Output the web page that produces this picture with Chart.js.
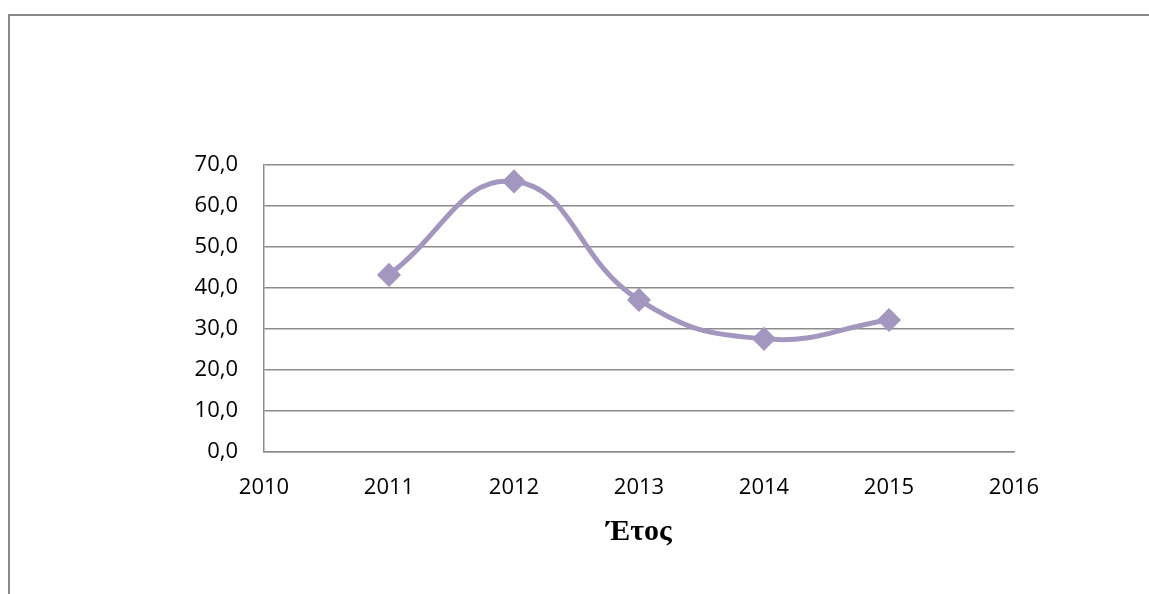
<!DOCTYPE html>
<html>
<head>
<meta charset="utf-8">
<script src="https://cdn.jsdelivr.net/npm/chart.js@4"></script>
<style>
  body { margin: 0; background: #fff; }
  #wrap { position: relative; width: 1149px; height: 594px; }
  #frame { position: absolute; left: 8px; top: 14px; right: -10px; bottom: -10px; border-top: 2px solid #898989; border-left: 2px solid #898989; }
  canvas { position: absolute; left: 0; top: 0; }
</style>
</head>
<body>
<div id="wrap">
  <div id="frame"></div>
  <canvas id="chart1" width="1149" height="594"></canvas>
</div>
<script>
const years = [2011, 2012, 2013, 2014, 2015];
const values = [43.2, 66.0, 37.1, 27.6, 32.2];
const xTitle = "Έτος";

const ctx = document.getElementById("chart1");
const myChart = new Chart(ctx, {
  type: "line",
  data: {
    datasets: [
      {
        data: years.map((y, i) => ({ x: y, y: values[i] })),
        borderColor: "#a397c0",
        backgroundColor: "#a397c0",
        borderWidth: 5,
        tension: 0.45,
        pointStyle: "rectRot",
        pointRadius: 8.5,
        pointHoverRadius: 8.5,
      },
    ],
  },
  options: {
    responsive: false,
    animation: false,
    layout: { padding: { top: 165, right: 135, bottom: 0, left: 0 } },
    plugins: { legend: { display: false }, tooltip: { enabled: false } },
    scales: {
      x: {
        type: "linear",
        min: 2010,
        max: 2016,
        ticks: {
          stepSize: 1,
          padding: 23,
          color: "#000",
          font: { family: "'Open Sans', sans-serif", size: 22 },
          callback: (v) => String(v),
        },
        grid: { display: false, drawTicks: false },
        border: { display: true, color: "#8c8c8c", width: 1.5 },
        title: {
          display: true,
          text: xTitle,
          color: "#000",
          font: { family: "'Liberation Serif', serif", size: 30, weight: "bold" },
          padding: { top: 0, bottom: 44 },
        },
        afterFit: (scale) => { scale.height = 142; },
      },
      y: {
        min: 0,
        max: 70,
        ticks: {
          stepSize: 10,
          padding: 26,
          color: "#000",
          font: { family: "'Open Sans', sans-serif", size: 22 },
          callback: (v) => v.toFixed(1).replace(".", ","),
        },
        grid: { color: "#8c8c8c", lineWidth: 1.5, drawTicks: false },
        border: { display: true, color: "#8c8c8c", width: 1.5 },
        afterFit: (scale) => { scale.width = 264; },
      },
    },
  },
});
</script>
</body>
</html>
